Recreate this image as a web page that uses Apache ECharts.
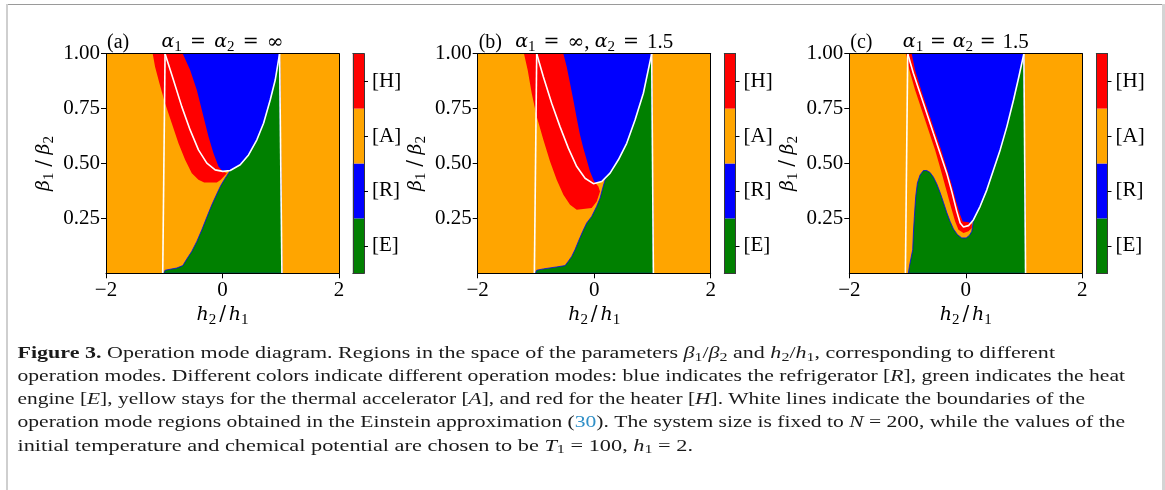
<!DOCTYPE html>
<html>
<head>
<meta charset="utf-8">
<script src="https://cdn.jsdelivr.net/npm/echarts@6/dist/echarts.min.js"></script>
<style>
  html, body { margin: 0; padding: 0; background: #ffffff; }
  #chart { width: 1165px; height: 490px; }
</style>
</head>
<body>
<div id="chart"></div>
<script>
// Operation modes, bottom to top of the colour bar
const modeLabels = ['[E]', '[R]', '[A]', '[H]'];
const modeColors = ['#008000', '#0000ff', '#ffa500', '#ff0000'];

// Axis ticks
const xTicks = [-2, 0, 2];
const yTicks = [0.25, 0.5, 0.75, 1.0];

// Whole parameter window, filled with the accelerator mode [A]
const fullWindow = [[-2, 0], [2, 0], [2, 1], [-2, 1]];

// ---- Panel (a): alpha1 = alpha2 = infinity ----
const aEinsteinCurve = [[-0.986, 1.0], [-0.842, 0.880], [-0.699, 0.759], [-0.556, 0.653], [-0.413, 0.562],
  [-0.269, 0.502], [-0.126, 0.471], [0.006, 0.464], [0.132, 0.468], [0.304, 0.494], [0.447, 0.539],
  [0.590, 0.608], [0.705, 0.683], [0.819, 0.789], [0.905, 0.880], [0.980, 1.0]];
const aEinsteinLeft = [[-1.026, 0], [-0.986, 1]];
const aEinsteinRight = [[1.020, 0], [0.980, 1]];
const aHeater = [[-1.198, 1.0], [-0.682, 1.0], [-0.556, 0.926], [-0.441, 0.835], [-0.327, 0.714], [-0.241, 0.623],
  [-0.155, 0.547], [-0.069, 0.486], [0.006, 0.464], [0.074, 0.456], [-0.029, 0.426], [-0.097, 0.414],
  [-0.315, 0.414], [-0.413, 0.426], [-0.527, 0.456], [-0.642, 0.517], [-0.756, 0.592], [-0.871, 0.683],
  [-0.986, 0.774], [-1.083, 0.865], [-1.158, 0.941]];
const aEngine = [[-1.014, 0], [-0.986, 0.014], [-0.785, 0.024], [-0.682, 0.035], [-0.613, 0.065], [-0.527, 0.100],
  [-0.441, 0.145], [-0.355, 0.198], [-0.269, 0.256], [-0.183, 0.312], [-0.097, 0.362], [-0.029, 0.400],
  [0.046, 0.433], [0.132, 0.468], [0.304, 0.494], [0.447, 0.539], [0.590, 0.608], [0.705, 0.683],
  [0.819, 0.789], [0.905, 0.880], [0.980, 1.0], [1.020, 0]];

// ---- Panel (b): alpha1 = infinity, alpha2 = 1.5 ----
const bEinsteinCurve = [[-0.987, 1.0], [-0.873, 0.895], [-0.730, 0.774], [-0.587, 0.668], [-0.444, 0.570],
  [-0.300, 0.486], [-0.157, 0.433], [-0.014, 0.408], [0.129, 0.418], [0.272, 0.456], [0.415, 0.517],
  [0.558, 0.592], [0.701, 0.698], [0.844, 0.820], [0.987, 1.0]];
const bEinsteinLeft = [[-1.027, 0], [-0.987, 1]];
const bEinsteinRight = [[1.016, 0], [0.987, 1]];
const bHeater = [[-1.205, 1.0], [-0.529, 1.0], [-0.472, 0.941], [-0.415, 0.865], [-0.358, 0.789], [-0.300, 0.706],
  [-0.243, 0.630], [-0.186, 0.570], [-0.129, 0.517], [-0.072, 0.464], [0.0, 0.418], [0.072, 0.395],
  [0.100, 0.373], [0.043, 0.327], [-0.043, 0.297], [-0.300, 0.289], [-0.415, 0.312], [-0.529, 0.358],
  [-0.644, 0.426], [-0.758, 0.509], [-0.873, 0.608], [-0.987, 0.714], [-1.073, 0.820], [-1.142, 0.926]];
const bEngine = [[-1.016, 0], [-0.987, 0.014], [-0.873, 0.020], [-0.644, 0.029], [-0.501, 0.035], [-0.444, 0.055],
  [-0.386, 0.077], [-0.329, 0.108], [-0.272, 0.145], [-0.197, 0.191], [-0.129, 0.229], [-0.043, 0.259],
  [0.043, 0.305], [0.100, 0.342], [0.150, 0.392], [0.200, 0.437], [0.272, 0.456], [0.415, 0.517],
  [0.558, 0.592], [0.701, 0.698], [0.844, 0.820], [0.987, 1.0], [1.016, 0]];

// ---- Panel (c): alpha1 = alpha2 = 1.5 ----
const cEinsteinCurve = [[-0.997, 1.0], [-0.900, 0.911], [-0.785, 0.820], [-0.670, 0.729], [-0.556, 0.638],
  [-0.441, 0.547], [-0.327, 0.456], [-0.241, 0.373], [-0.155, 0.282], [-0.097, 0.229], [-0.040, 0.211],
  [0.046, 0.217], [0.132, 0.244], [0.246, 0.305], [0.361, 0.380], [0.476, 0.471], [0.590, 0.562],
  [0.705, 0.668], [0.819, 0.789], [0.905, 0.888], [0.997, 1.0]];
const cEinsteinLeft = [[-1.037, 0], [-0.997, 1]];
const cEinsteinRight = [[1.026, 0], [0.997, 1]];
const cHeater = [[-1.026, 1.0], [-0.968, 0.926], [-0.871, 0.835], [-0.756, 0.744], [-0.642, 0.653], [-0.527, 0.562],
  [-0.430, 0.471], [-0.344, 0.388], [-0.258, 0.305], [-0.183, 0.236], [-0.126, 0.198], [-0.040, 0.183],
  [0.046, 0.191], [0.103, 0.206], [0.103, 0.226], [0.046, 0.232], [-0.052, 0.236], [-0.097, 0.267],
  [-0.166, 0.327], [-0.241, 0.403], [-0.327, 0.479], [-0.413, 0.555], [-0.527, 0.645], [-0.642, 0.736],
  [-0.756, 0.827], [-0.871, 0.926], [-0.928, 1.0]];
const cEngine = [[-0.986, 0], [-0.968, 0.032], [-0.940, 0.070], [-0.911, 0.108], [-0.900, 0.183], [-0.883, 0.259],
  [-0.860, 0.350], [-0.831, 0.411], [-0.785, 0.448], [-0.728, 0.468], [-0.670, 0.468], [-0.613, 0.459],
  [-0.556, 0.438], [-0.499, 0.408], [-0.441, 0.368], [-0.384, 0.323], [-0.327, 0.277], [-0.269, 0.236],
  [-0.212, 0.202], [-0.143, 0.176], [-0.069, 0.161], [0.006, 0.161], [0.063, 0.173], [0.103, 0.191],
  [0.132, 0.244], [0.246, 0.305], [0.361, 0.380], [0.476, 0.471], [0.590, 0.562], [0.705, 0.668],
  [0.819, 0.789], [0.905, 0.888], [0.997, 1.0], [1.026, 0]];

// Panel tags and titles (i = math italic, e = relation sign, f = symbol, m = digits/punctuation, s = subscript)
const panelTags = ['(a)', '(b)', '(c)'];
const panelTitles = [
  '{i|α}{s|1}{e|=}{i|α}{s|2}{e|=}{f|∞}',
  '{i|α}{s|1}{e|=}{f|∞}{m|, }{i|α}{s|2}{e|=}{m|1.5}',
  '{i|α}{s|1}{e|=}{i|α}{s|2}{e|=}{m|1.5}'
];
const xName = '{i|h}{s|2}{d|/}{i|h}{s|1}';
const yName = '{i|β}{s|1}{d|/}{i|β}{s|2}';

// Caption lines
const captionLines = [
  '{b|Figure 3.}{n| Operation mode diagram. Regions in the space of the parameters }{i|β}{s|1}{n|/}{i|β}{s|2}{n| and }{i|h}{s|2}{n|/}{i|h}{s|1}{n|, corresponding to different}',
  '{n|operation modes. Different colors indicate different operation modes: blue indicates the refrigerator [}{i|R}{n|], green indicates the heat}',
  '{n|engine [}{i|E}{n|], yellow stays for the thermal accelerator [}{i|A}{n|], and red for the heater [}{i|H}{n|]. White lines indicate the boundaries of the}',
  '{n|operation mode regions obtained in the Einstein approximation (}{l|30}{n|). The system size is fixed to }{i|N}{n| = 200, while the values of the}',
  '{n|initial temperature and chemical potential are chosen to be }{i|T}{s|1}{n| = 100, }{i|h}{s|1}{n| = 2.}'
];

// ---------------------------------------------------------------------------
const A = 2, R = 1, E = 0, H = 3;   // indices into modeColors
const panels = [
  { regions: [[fullWindow, A], [aEngine, E], [aEinsteinCurve, R], [aHeater, H]],
    white: [aEinsteinCurve, aEinsteinLeft, aEinsteinRight] },
  { regions: [[fullWindow, A], [bEngine, E], [bEinsteinCurve, R], [bHeater, H]],
    white: [bEinsteinCurve, bEinsteinLeft, bEinsteinRight] },
  { regions: [[fullWindow, A], [cEngine, E], [cEinsteinCurve, R], [cHeater, H]],
    white: [cEinsteinCurve, cEinsteinLeft, cEinsteinRight] }
];

const FONT = '"Liberation Serif", "DejaVu Serif", serif';
const MATH = '"DejaVu Serif", "Liberation Serif", serif';
const CB_EDGE = '#3a3a3a';
const plotLeft = [106, 477.7, 849.3];
const plotW = 233, plotTop = 53.7, plotH = 219.6;
const cbLeft = [352.8, 724.3, 1096.3], cbW = 11.2;
const titleY = 42.5;
const titleWidth = [122, 158, 126];
const xNameWidth = 52, yNameWidth = 55;
const tickSize = 21;

// layout of the caption block
const capLeft = 17.5, capTop = 353.5, capStep = 23.2, capSize = 16.5;
const capRight = [1055, 1125, 1085, 1125, 693];

// text measuring for rich strings
const measureCtx = document.createElement('canvas').getContext('2d');
function richWidth(str, rich) {
  let w = 0;
  str.replace(/\{(\w+)\|([^}]*)\}/g, (m, key, txt) => {
    const st = rich[key];
    measureCtx.font = (st.fontStyle || 'normal') + ' normal ' + (st.fontWeight || 'normal') + ' ' +
      st.fontSize + 'px ' + st.fontFamily;
    w += measureCtx.measureText(txt).width + (st.padding ? st.padding[1] + st.padding[3] : 0);
    return m;
  });
  return w;
}
function countKey(str, key) {
  return (str.match(new RegExp('\\{' + key + '\\|', 'g')) || []).length;
}

function mathStyles(colorKey) {
  const c = {}; c[colorKey] = '#000';
  return {
    m: Object.assign({ fontFamily: FONT, fontSize: 21, lineHeight: 25 }, c),
    e: Object.assign({ fontFamily: MATH, fontSize: 19, lineHeight: 25, padding: [0, 0, 0, 0] }, c),
    f: Object.assign({ fontFamily: MATH, fontSize: 20, lineHeight: 25 }, c),
    d: Object.assign({ fontFamily: MATH, fontSize: 20, lineHeight: 25, padding: [0, 0, 0, 0] }, c),
    i: Object.assign({ fontFamily: MATH, fontSize: 19, fontStyle: 'italic', lineHeight: 25 }, c),
    s: Object.assign({ fontFamily: FONT, fontSize: 15, verticalAlign: 'bottom' }, c)
  };
}
// widen the spacing token `key` so the whole string spans `target` pixels
function spaced(str, rich, key, target) {
  const n = countKey(str, key);
  const pad = Math.max(0, (target - richWidth(str, rich)) / (2 * n));
  const out = Object.assign({}, rich);
  out[key] = Object.assign({}, rich[key], { padding: [0, pad, 0, pad] });
  return out;
}

const xNameRich = spaced(xName, mathStyles('color'), 'd', xNameWidth);
const yNameRich = spaced(yName, mathStyles('color'), 'd', yNameWidth);

const captionRich = {
  n: { fontFamily: FONT, fontSize: capSize, fill: '#1a1a1a', lineHeight: 20 },
  b: { fontFamily: FONT, fontSize: capSize, fill: '#1a1a1a', fontWeight: 'bold', lineHeight: 20 },
  i: { fontFamily: FONT, fontSize: capSize, fill: '#1a1a1a', fontStyle: 'italic', lineHeight: 20 },
  l: { fontFamily: FONT, fontSize: capSize, fill: '#2f8fc7', lineHeight: 20 },
  s: { fontFamily: FONT, fontSize: 12, fill: '#1a1a1a', verticalAlign: 'bottom' }
};

const grids = [], xAxes = [], yAxes = [], series = [], graphics = [];
const hiddenAxis = { axisTick: { show: false }, axisLabel: { show: false }, splitLine: { show: false } };

panels.forEach((P, p) => {
  // main diagram
  const g = grids.length;
  grids.push({ left: plotLeft[p], top: plotTop, width: plotW, height: plotH });
  const xb = xAxes.length;
  xAxes.push({
    gridIndex: g, type: 'value', min: -2, max: 2, interval: 2, position: 'bottom', z: 5,
    axisLine: { show: true, onZero: false, lineStyle: { color: '#000', width: 1 } },
    axisTick: { show: true, length: 5, customValues: xTicks, lineStyle: { color: '#000', width: 1 } },
    axisLabel: { margin: 7, customValues: xTicks, fontFamily: FONT, fontSize: tickSize, color: '#000',
      formatter: v => (v < 0 ? '\u2212' + Math.abs(v) : String(v)) },
    splitLine: { show: false },
    name: xName, nameLocation: 'middle', nameGap: 29,
    nameTextStyle: { rich: xNameRich }
  });
  xAxes.push(Object.assign({
    gridIndex: g, type: 'value', min: -2, max: 2, position: 'top', z: 5,
    axisLine: { show: true, onZero: false, lineStyle: { color: '#000', width: 1 } }
  }, hiddenAxis));
  const yl = yAxes.length;
  yAxes.push({
    gridIndex: g, type: 'value', min: 0, max: 1, interval: 0.25, position: 'left', z: 5,
    axisLine: { show: true, onZero: false, lineStyle: { color: '#000', width: 1 } },
    axisTick: { show: true, length: 5, customValues: yTicks, lineStyle: { color: '#000', width: 1 } },
    axisLabel: { margin: 6, customValues: yTicks, fontFamily: FONT, fontSize: tickSize, color: '#000',
      formatter: v => v.toFixed(2) },
    splitLine: { show: false },
    name: yName, nameLocation: 'middle', nameRotate: 90, nameGap: 49,
    nameTextStyle: { rich: yNameRich }
  });
  yAxes.push(Object.assign({
    gridIndex: g, type: 'value', min: 0, max: 1, position: 'right', z: 5,
    axisLine: { show: true, onZero: false, lineStyle: { color: '#000', width: 1 } }
  }, hiddenAxis));

  // operation-mode regions
  series.push({
    type: 'custom', coordinateSystem: 'cartesian2d', xAxisIndex: xb, yAxisIndex: yl,
    clip: true, silent: true, animation: false, z: 2,
    data: P.regions.map(r => r[0][0]),
    renderItem: (params, api) => {
      const [pts, mode] = P.regions[params.dataIndex];
      const outlined = mode === E;
      return {
        type: 'polygon', z2: params.dataIndex,
        shape: { points: pts.map(pt => api.coord(pt)) },
        style: { fill: modeColors[mode], stroke: outlined ? modeColors[R] : null, lineWidth: outlined ? 0.8 : 0 }
      };
    }
  });
  // Einstein-approximation boundaries
  P.white.forEach(curve => {
    series.push({
      type: 'line', xAxisIndex: xb, yAxisIndex: yl, data: curve, symbol: 'none', showSymbol: false,
      lineStyle: { color: '#ffffff', width: 1.6 }, silent: true, animation: false, z: 3
    });
  });

  // colour bar
  const gc = grids.length;
  grids.push({ left: cbLeft[p], top: plotTop, width: cbW, height: plotH });
  const xc = xAxes.length;
  xAxes.push(Object.assign({
    gridIndex: gc, type: 'value', min: 0, max: 1, position: 'bottom', z: 5,
    axisLine: { show: true, onZero: false, lineStyle: { color: CB_EDGE, width: 1 } }
  }, hiddenAxis));
  xAxes.push(Object.assign({
    gridIndex: gc, type: 'value', min: 0, max: 1, position: 'top', z: 5,
    axisLine: { show: true, onZero: false, lineStyle: { color: CB_EDGE, width: 1 } }
  }, hiddenAxis));
  yAxes.push(Object.assign({
    gridIndex: gc, type: 'category', data: modeLabels, position: 'left', z: 5,
    axisLine: { show: true, onZero: false, lineStyle: { color: CB_EDGE, width: 1 } }
  }, hiddenAxis));
  const yc = yAxes.length;
  yAxes.push({
    gridIndex: gc, type: 'category', data: modeLabels, position: 'right', z: 5,
    axisLine: { show: true, onZero: false, lineStyle: { color: CB_EDGE, width: 1 } },
    axisTick: { show: true, alignWithLabel: true, length: 4, lineStyle: { color: '#000', width: 1 } },
    axisLabel: { margin: 8, fontFamily: FONT, fontSize: tickSize, color: '#000' },
    splitLine: { show: false }
  });
  series.push({
    type: 'bar', xAxisIndex: xc, yAxisIndex: yc, barWidth: '100%', silent: true, animation: false,
    data: modeLabels.map((m, i) => ({ value: 1, itemStyle: { color: modeColors[i] } }))
  });

  // panel tag and title
  graphics.push({
    type: 'text', x: plotLeft[p] + 1, y: titleY, silent: true,
    style: { text: panelTags[p], fontFamily: FONT, fontSize: 20, fill: '#000', align: 'left', verticalAlign: 'middle' }
  });
  graphics.push({
    type: 'text', x: plotLeft[p] + plotW / 2, y: titleY, silent: true,
    style: { text: panelTitles[p], rich: spaced(panelTitles[p], mathStyles('fill'), 'e', titleWidth[p]),
      fontFamily: FONT, fontSize: 20, fill: '#000', align: 'center', verticalAlign: 'middle' }
  });
});

// caption, each line stretched to its measured extent
captionLines.forEach((line, k) => {
  const sx = (capRight[k] - capLeft) / richWidth(line, captionRich);
  graphics.push({
    type: 'text', x: capLeft, y: capTop + capStep * k, scaleX: sx, silent: true,
    style: { text: line, rich: captionRich, fontFamily: FONT, fontSize: capSize, fill: '#1a1a1a',
      align: 'left', verticalAlign: 'middle' }
  });
});

// page frame
graphics.push({ type: 'rect', silent: true, shape: { x: 7, y: 4, width: 1156, height: 1 }, style: { fill: '#9a9a9a' } });
graphics.push({ type: 'rect', silent: true, shape: { x: 6, y: 4, width: 2, height: 486 }, style: { fill: '#cfcfcf' } });
graphics.push({ type: 'rect', silent: true, shape: { x: 1162, y: 4, width: 3, height: 486 }, style: { fill: '#d4d4d4' } });

const chart = echarts.init(document.getElementById('chart'), null, { renderer: 'canvas' });
chart.setOption({
  animation: false,
  backgroundColor: '#ffffff',
  grid: grids,
  xAxis: xAxes,
  yAxis: yAxes,
  series: series,
  graphic: graphics
});
</script>
</body>
</html>
